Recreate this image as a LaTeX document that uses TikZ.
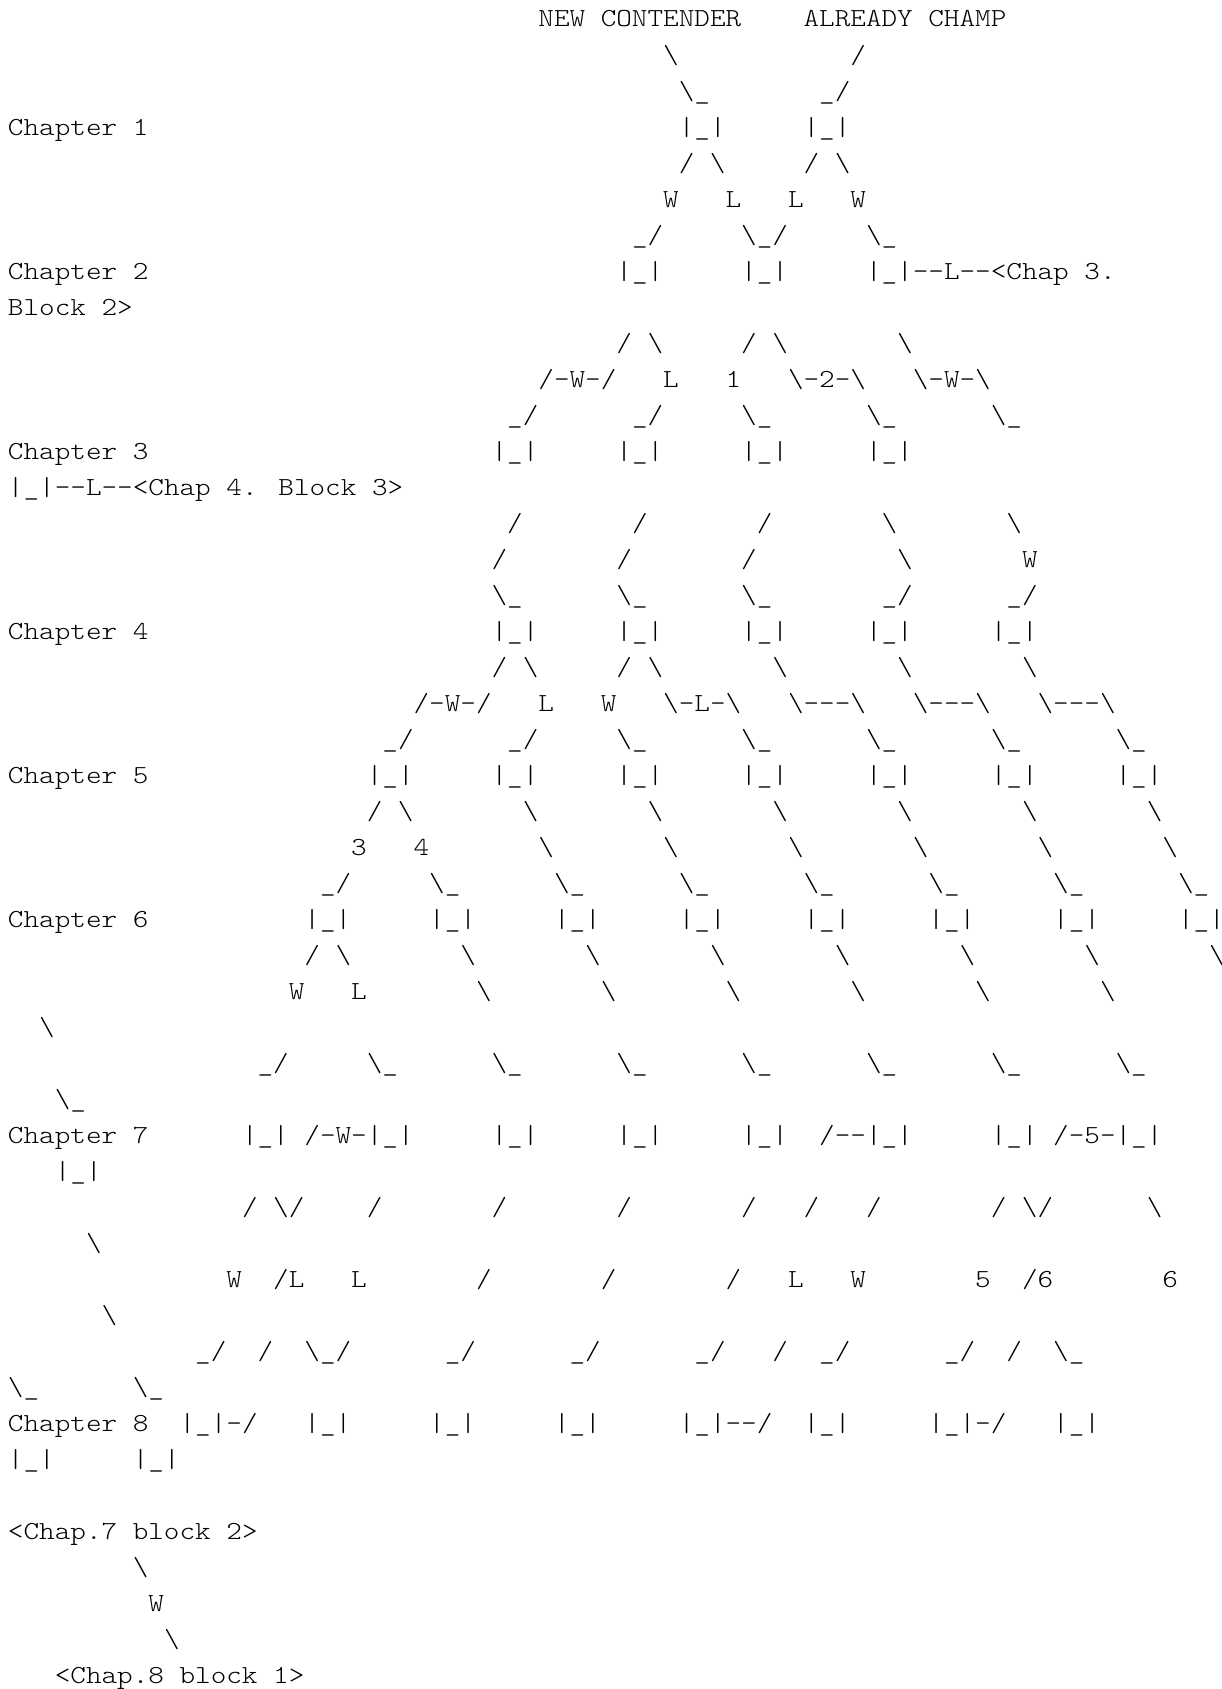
\documentclass[tikz,border=0pt]{standalone}
\usepackage{fontspec}
\newfontfamily\asciifont{lmmonolt10-regular.otf}[FakeStretch=1.143, WordSpace={1,0,0}]
\newcommand\bs{\textbackslash}
\newcommand\hy{\mbox{-}}
\tikzset{asc/.style={anchor=base west, inner sep=0pt, outer sep=0pt,
  font=\asciifont\fontsize{26}{36}\selectfont, text=black}}
\newcommand\seg[3]{\node[asc] (r#1c#2) at ({8+15.6*#2},{27+36*#1}) {#3};}
\begin{document}
\begin{tikzpicture}[x=1pt,y=-1pt]
\fill[white] (0,0) rectangle (1221,1689);
\useasboundingbox (0,0) rectangle (1221,1689);
% row 0-8
\seg{0}{34}{NEW CONTENDER} \seg{0}{51}{ALREADY CHAMP}
\seg{1}{42}{\bs} \seg{1}{54}{/}
\seg{2}{43}{\bs\_} \seg{2}{52}{\_/}
\seg{3}{0}{Chapter 1} \seg{3}{43}{|\_|} \seg{3}{51}{|\_|}
\seg{4}{43}{/ \bs} \seg{4}{51}{/ \bs}
\seg{5}{42}{W} \seg{5}{46}{L} \seg{5}{50}{L} \seg{5}{54}{W}
\seg{6}{40}{\_/} \seg{6}{47}{\bs\_/} \seg{6}{55}{\bs\_}
\seg{7}{0}{Chapter 2} \seg{7}{39}{|\_|} \seg{7}{47}{|\_|} \seg{7}{55}{|\_|\hy\hy L\hy\hy<Chap 3.}
\seg{8}{0}{Block 2>}
% rows 9-16
\seg{9}{39}{/ \bs} \seg{9}{47}{/ \bs} \seg{9}{57}{\bs}
\seg{10}{34}{/\hy W\hy/} \seg{10}{42}{L} \seg{10}{46}{1} \seg{10}{50}{\bs\hy 2\hy\bs} \seg{10}{58}{\bs\hy W\hy\bs}
\seg{11}{32}{\_/} \seg{11}{40}{\_/} \seg{11}{47}{\bs\_} \seg{11}{55}{\bs\_} \seg{11}{63}{\bs\_}
\seg{12}{0}{Chapter 3} \seg{12}{31}{|\_|} \seg{12}{39}{|\_|} \seg{12}{47}{|\_|} \seg{12}{55}{|\_|}
\seg{13}{0}{|\_|\hy\hy L\hy\hy<Chap 4. Block 3>}
\seg{14}{32}{/} \seg{14}{40}{/} \seg{14}{48}{/} \seg{14}{56}{\bs} \seg{14}{64}{\bs}
\seg{15}{31}{/} \seg{15}{39}{/} \seg{15}{47}{/} \seg{15}{57}{\bs} \seg{15}{65}{W}
\seg{16}{31}{\bs\_} \seg{16}{39}{\bs\_} \seg{16}{47}{\bs\_} \seg{16}{56}{\_/} \seg{16}{64}{\_/}
% rows 17-24
\seg{17}{0}{Chapter 4} \seg{17}{31}{|\_|} \seg{17}{39}{|\_|} \seg{17}{47}{|\_|} \seg{17}{55}{|\_|} \seg{17}{63}{|\_|}
\seg{18}{31}{/ \bs} \seg{18}{39}{/ \bs} \seg{18}{49}{\bs} \seg{18}{57}{\bs} \seg{18}{65}{\bs}
\seg{19}{26}{/\hy W\hy/} \seg{19}{34}{L} \seg{19}{38}{W} \seg{19}{42}{\bs\hy L\hy\bs} \seg{19}{50}{\bs\hy\hy\hy\bs} \seg{19}{58}{\bs\hy\hy\hy\bs} \seg{19}{66}{\bs\hy\hy\hy\bs}
\seg{20}{24}{\_/} \seg{20}{32}{\_/} \seg{20}{39}{\bs\_} \seg{20}{47}{\bs\_} \seg{20}{55}{\bs\_} \seg{20}{63}{\bs\_} \seg{20}{71}{\bs\_}
\seg{21}{0}{Chapter 5} \seg{21}{23}{|\_|} \seg{21}{31}{|\_|} \seg{21}{39}{|\_|} \seg{21}{47}{|\_|} \seg{21}{55}{|\_|} \seg{21}{63}{|\_|} \seg{21}{71}{|\_|}
\seg{22}{23}{/ \bs} \seg{22}{33}{\bs} \seg{22}{41}{\bs} \seg{22}{49}{\bs} \seg{22}{57}{\bs} \seg{22}{65}{\bs} \seg{22}{73}{\bs}
\seg{23}{22}{3} \seg{23}{26}{4} \seg{23}{34}{\bs} \seg{23}{42}{\bs} \seg{23}{50}{\bs} \seg{23}{58}{\bs} \seg{23}{66}{\bs} \seg{23}{74}{\bs}
\seg{24}{20}{\_/} \seg{24}{27}{\bs\_} \seg{24}{35}{\bs\_} \seg{24}{43}{\bs\_} \seg{24}{51}{\bs\_} \seg{24}{59}{\bs\_} \seg{24}{67}{\bs\_} \seg{24}{75}{\bs\_}
% rows 25-32
\seg{25}{0}{Chapter 6} \seg{25}{19}{|\_|} \seg{25}{27}{|\_|} \seg{25}{35}{|\_|} \seg{25}{43}{|\_|} \seg{25}{51}{|\_|} \seg{25}{59}{|\_|} \seg{25}{67}{|\_|} \seg{25}{75}{|\_|}
\seg{26}{19}{/ \bs} \seg{26}{29}{\bs} \seg{26}{37}{\bs} \seg{26}{45}{\bs} \seg{26}{53}{\bs} \seg{26}{61}{\bs} \seg{26}{69}{\bs} \seg{26}{77}{\bs}
\seg{27}{18}{W} \seg{27}{22}{L} \seg{27}{30}{\bs} \seg{27}{38}{\bs} \seg{27}{46}{\bs} \seg{27}{54}{\bs} \seg{27}{62}{\bs} \seg{27}{70}{\bs}
\seg{28}{2}{\bs}
\seg{29}{16}{\_/} \seg{29}{23}{\bs\_} \seg{29}{31}{\bs\_} \seg{29}{39}{\bs\_} \seg{29}{47}{\bs\_} \seg{29}{55}{\bs\_} \seg{29}{63}{\bs\_} \seg{29}{71}{\bs\_}
\seg{30}{3}{\bs\_}
\seg{31}{0}{Chapter 7} \seg{31}{15}{|\_|} \seg{31}{19}{/\hy W\hy|\_|} \seg{31}{31}{|\_|} \seg{31}{39}{|\_|} \seg{31}{47}{|\_|} \seg{31}{52}{/\hy\hy|\_|} \seg{31}{63}{|\_|} \seg{31}{67}{/\hy 5\hy|\_|}
\seg{32}{3}{|\_|}
% rows 33-40
\seg{33}{15}{/ \bs/} \seg{33}{23}{/} \seg{33}{31}{/} \seg{33}{39}{/} \seg{33}{47}{/} \seg{33}{51}{/} \seg{33}{55}{/} \seg{33}{63}{/ \bs/} \seg{33}{73}{\bs}
\seg{34}{5}{\bs}
\seg{35}{14}{W} \seg{35}{17}{/L} \seg{35}{22}{L} \seg{35}{30}{/} \seg{35}{38}{/} \seg{35}{46}{/} \seg{35}{50}{L} \seg{35}{54}{W} \seg{35}{62}{5} \seg{35}{65}{/6} \seg{35}{74}{6}
\seg{36}{6}{\bs}
\seg{37}{12}{\_/} \seg{37}{16}{/} \seg{37}{19}{\bs\_/} \seg{37}{28}{\_/} \seg{37}{36}{\_/} \seg{37}{44}{\_/} \seg{37}{49}{/} \seg{37}{52}{\_/} \seg{37}{60}{\_/} \seg{37}{64}{/} \seg{37}{67}{\bs\_}
\seg{38}{0}{\bs\_} \seg{38}{8}{\bs\_}
\seg{39}{0}{Chapter 8} \seg{39}{11}{|\_|\hy/} \seg{39}{19}{|\_|} \seg{39}{27}{|\_|} \seg{39}{35}{|\_|} \seg{39}{43}{|\_|\hy\hy/} \seg{39}{51}{|\_|} \seg{39}{59}{|\_|\hy/} \seg{39}{67}{|\_|}
\seg{40}{0}{|\_|} \seg{40}{8}{|\_|}
% rows 42-46
\seg{42}{0}{<Chap.7 block 2>}
\seg{43}{8}{\bs}
\seg{44}{9}{W}
\seg{45}{10}{\bs}
\seg{46}{3}{<Chap.8 block 1>}
\end{tikzpicture}
\end{document}
